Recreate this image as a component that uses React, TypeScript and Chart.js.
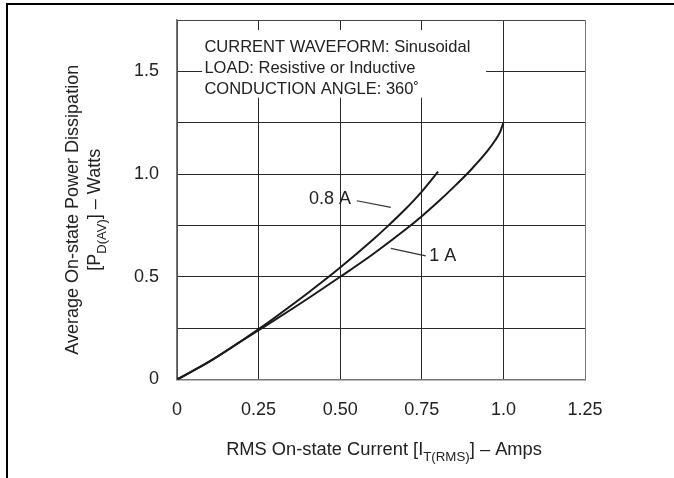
import React, { useEffect, useRef } from 'react';
import { Chart, registerables } from 'chart.js';

Chart.register(...registerables);

// ---- data ----
const current1A = [0, 0.1, 0.2, 0.25, 0.3, 0.4, 0.5, 0.6, 0.7, 0.75, 0.8, 0.85, 0.9, 0.95, 0.975, 0.99, 1.0];
const power1A = [0, 0.088, 0.19, 0.24, 0.29, 0.393, 0.5, 0.61, 0.73, 0.795, 0.865, 0.94, 1.02, 1.11, 1.165, 1.205, 1.25];
const current08A = [0, 0.1, 0.2, 0.25, 0.3, 0.4, 0.5, 0.6, 0.64, 0.7, 0.75, 0.8];
const power08A = [0, 0.088, 0.19, 0.245, 0.302, 0.42, 0.545, 0.68, 0.738, 0.83, 0.915, 1.012];

const leader08X = [0.551, 0.655];
const leader08Y = [0.87, 0.838];
const leader1X = [0.655, 0.762];
const leader1Y = [0.638, 0.602];

const xTickLabels = ['0', '0.25', '0.50', '0.75', '1.0', '1.25'];
const yTickLabels = ['0', '', '0.5', '', '1.0', '', '1.5', ''];

const infoLines = ['CURRENT WAVEFORM: Sinusoidal', 'LOAD: Resistive or Inductive', 'CONDUCTION ANGLE: 360\u02DA'];
const curveNames = ['1 A', '0.8 A'];

const FONT = '"Liberation Sans", Arial, Helvetica, sans-serif';
const TEXT = '#222';

type Seg = { t: string; sub?: boolean };

function drawRich(ctx: CanvasRenderingContext2D, segs: Seg[], cx: number, baseY: number, size: number, subSize: number, subShift: number) {
  const widths = segs.map((s) => {
    ctx.font = `${s.sub ? subSize : size}px ${FONT}`;
    return ctx.measureText(s.t).width;
  });
  const total = widths.reduce((a, b) => a + b, 0);
  let x = cx - total / 2;
  ctx.textAlign = 'left';
  ctx.textBaseline = 'alphabetic';
  segs.forEach((s, i) => {
    ctx.font = `${s.sub ? subSize : size}px ${FONT}`;
    ctx.fillText(s.t, x, baseY + (s.sub ? subShift : 0));
    x += widths[i];
  });
}

const overlayPlugin = {
  id: 'overlay',
  beforeDatasetsDraw(chart: any) {
    const { ctx, scales } = chart;
    const xs = scales.x;
    const ys = scales.y;
    // white info box that interrupts the grid
    const bx0 = xs.getPixelForValue(0.077);
    const bx1 = xs.getPixelForValue(0.947);
    const by0 = ys.getPixelForValue(1.701);
    const by1 = ys.getPixelForValue(1.372);
    ctx.save();
    ctx.fillStyle = '#fff';
    ctx.fillRect(bx0, by0, bx1 - bx0, by1 - by0);
    ctx.fillStyle = TEXT;
    ctx.font = `16.5px ${FONT}`;
    ctx.textAlign = 'left';
    ctx.textBaseline = 'alphabetic';
    const tx = xs.getPixelForValue(0.084);
    const baseVals = [1.594, 1.491, 1.389];
    infoLines.forEach((l, i) => ctx.fillText(l, tx, ys.getPixelForValue(baseVals[i])));
    ctx.restore();
  },
  afterDraw(chart: any) {
    const { ctx, scales, chartArea } = chart;
    const xs = scales.x;
    const ys = scales.y;
    ctx.save();
    ctx.fillStyle = TEXT;
    // curve labels
    ctx.font = `18px ${FONT}`;
    ctx.textBaseline = 'alphabetic';
    ctx.textAlign = 'right';
    ctx.fillText(curveNames[1], xs.getPixelForValue(0.533), ys.getPixelForValue(0.854));
    ctx.textAlign = 'left';
    ctx.fillText(curveNames[0], xs.getPixelForValue(0.773), ys.getPixelForValue(0.577));

    // x axis title
    const cx = (chartArea.left + chartArea.right) / 2 + 3;
    drawRich(
      ctx,
      [{ t: 'RMS On-state Current [I' }, { t: 'T(RMS)', sub: true }, { t: '] \u2013 Amps' }],
      cx,
      chartArea.bottom + 75.5,
      18.3,
      13.3,
      6
    );

    // y axis title (rotated)
    const cy = (chartArea.top + chartArea.bottom) / 2 + 10;
    ctx.save();
    ctx.translate(chartArea.left - 99, cy);
    ctx.rotate(-Math.PI / 2);
    drawRich(ctx, [{ t: 'Average On-state Power Dissipation' }], 0, 0, 18, 13, 6);
    ctx.restore();
    ctx.save();
    ctx.translate(chartArea.left - 77, cy);
    ctx.rotate(-Math.PI / 2);
    drawRich(ctx, [{ t: '[P' }, { t: 'D(AV)', sub: true }, { t: '] \u2013 Watts' }], 0, 0, 18, 13, 6);
    ctx.restore();
    ctx.restore();
  },
};

export default function App() {
  const ref = useRef<HTMLCanvasElement | null>(null);

  useEffect(() => {
    if (!ref.current) return;
    const pts = (xs: number[], ys: number[]) => xs.map((x, i) => ({ x, y: ys[i] }));
    const chart = new Chart(ref.current, {
      type: 'line',
      data: {
        datasets: [
          {
            label: curveNames[0],
            data: pts(current1A, power1A),
            borderColor: '#1a1a1a',
            borderWidth: 2,
            pointRadius: 0,
            cubicInterpolationMode: 'monotone',
            fill: false,
          },
          {
            label: curveNames[1],
            data: pts(current08A, power08A),
            borderColor: '#1a1a1a',
            borderWidth: 2,
            pointRadius: 0,
            cubicInterpolationMode: 'monotone',
            fill: false,
          },
          {
            label: 'leader 0.8',
            data: pts(leader08X, leader08Y),
            borderColor: '#333',
            borderWidth: 1.2,
            pointRadius: 0,
            fill: false,
          },
          {
            label: 'leader 1',
            data: pts(leader1X, leader1Y),
            borderColor: '#333',
            borderWidth: 1.2,
            pointRadius: 0,
            fill: false,
          },
        ],
      },
      options: {
        animation: false,
        responsive: false,
        maintainAspectRatio: false,
        devicePixelRatio: 1,
        layout: { padding: { left: 0, top: 20, right: 89, bottom: 0 } },
        plugins: { legend: { display: false }, tooltip: { enabled: false } },
        events: [],
        scales: {
          x: {
            type: 'linear',
            min: 0,
            max: 1.25,
            afterFit: (s: any) => {
              s.height = 98.5;
              s.paddingLeft = 10;
              s.paddingRight = 10;
            },
            ticks: {
              stepSize: 0.25,
              padding: 19.5,
              color: TEXT,
              font: { family: FONT, size: 18 },
              maxRotation: 0,
              callback: (_v: any, i: number) => xTickLabels[i] ?? '',
            },
            grid: {
              drawTicks: false,
              lineWidth: 1,
              color: (c: any) => (c.tick && c.tick.value === 1.25 ? '#777' : '#2a2a2a'),
            },
            border: { display: true, color: '#777', width: 1.5 },
          },
          y: {
            type: 'linear',
            min: 0,
            max: 1.75,
            afterFit: (s: any) => {
              s.width = 177;
              s.paddingTop = 10;
              s.paddingBottom = 10;
            },
            ticks: {
              stepSize: 0.25,
              padding: 18,
              color: TEXT,
              font: { family: FONT, size: 18 },
              callback: (_v: any, i: number) => yTickLabels[i] ?? '',
            },
            grid: {
              drawTicks: false,
              lineWidth: 1,
              color: (c: any) => (c.tick && c.tick.value === 1.75 ? '#444' : '#2a2a2a'),
            },
            border: { display: true, color: '#777', width: 1.5 },
          },
        },
      },
      plugins: [overlayPlugin],
    } as any);
    return () => chart.destroy();
  }, []);

  return (
    <div style={{ position: 'fixed', left: 0, top: 0, width: 674, height: 478, background: '#fff', overflow: 'hidden' }}>
      <div
        style={{
          position: 'absolute',
          left: 6,
          top: 3,
          width: 700,
          height: 500,
          borderLeft: '2px solid #000',
          borderTop: '2px solid #000',
        }}
      />
      <canvas ref={ref} width={674} height={478} style={{ position: 'absolute', left: 0, top: 0, width: 674, height: 478 }} />
    </div>
  );
}
